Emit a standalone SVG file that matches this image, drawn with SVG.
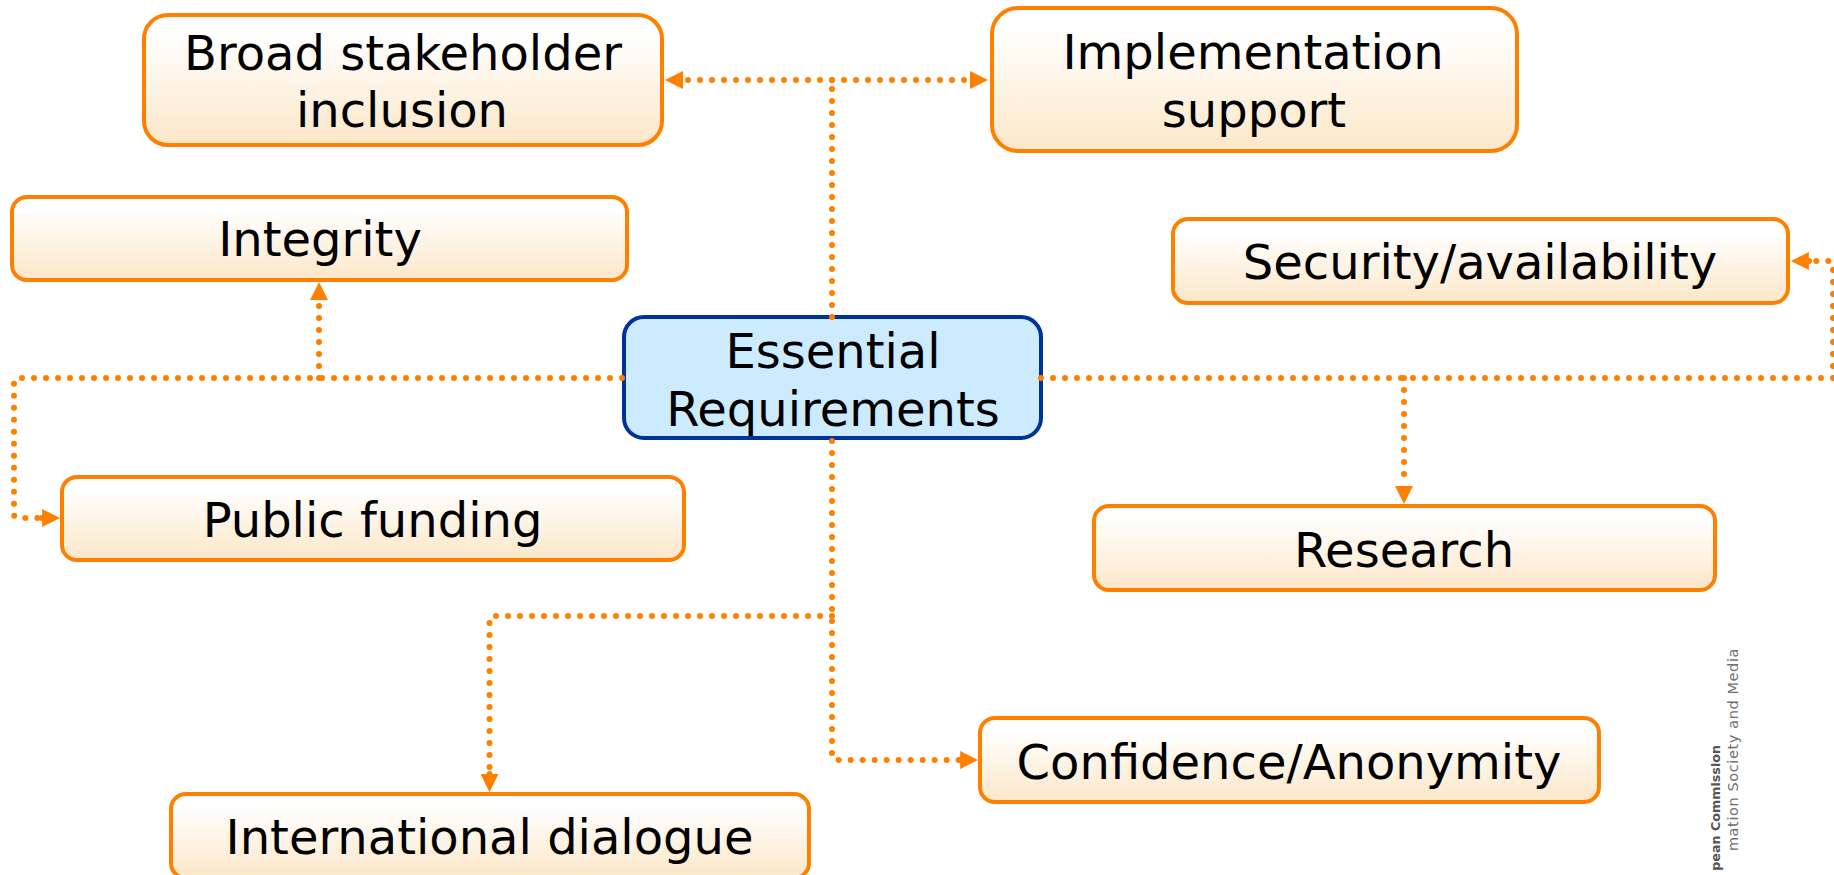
<svg xmlns="http://www.w3.org/2000/svg" width="1834" height="875" viewBox="0 0 1834 875">
<style>
.n{fill:url(#g);stroke:#ff8000;stroke-width:4}
.c{fill:#ccebff;stroke:#003399;stroke-width:4}
text{font-family:"DejaVu Sans","Liberation Sans",sans-serif;font-size:48px;fill:#000;text-anchor:middle}
.d{fill:none;stroke:#ff8000;stroke-width:6;stroke-linecap:round;stroke-dasharray:0 12}
.a{marker-end:url(#m)}
.f{font-size:14.500px;letter-spacing:.6px;fill:#707070;text-anchor:end}
.fb{font-size:12.700px;letter-spacing:0;font-weight:bold;fill:#555}
</style>
<defs>
<linearGradient id="g" x1="0" y1="0" x2="0" y2="1"><stop offset="0.15" stop-color="#fff"/><stop offset="1" stop-color="#fce7c8"/></linearGradient>
<marker id="m" markerUnits="userSpaceOnUse" markerWidth="18" markerHeight="18" refX="0" refY="9" orient="auto"><path d="M0 0L18 9L0 18Z" fill="#ff8000"/></marker>
</defs>
<g id="broad"><rect class="n" x="144" y="15" width="518" height="130" rx="24"/><text x="403" y="70">Broad stakeholder</text><text x="402" y="127">inclusion</text></g>
<g id="implementation"><rect class="n" x="992" y="8" width="525" height="143" rx="26"/><text x="1253" y="69">Implementation</text><text x="1254" y="127">support</text></g>
<g id="integrity"><rect class="n" x="12" y="197" width="615" height="83" rx="15"/><text x="320" y="256">Integrity</text></g>
<g id="security"><rect class="n" x="1173" y="219" width="615" height="84" rx="15"/><text x="1480" y="279">Security/availability</text></g>
<g id="essential"><rect class="c" x="624" y="317" width="417" height="121" rx="20"/><text x="833" y="368">Essential</text><text x="833" y="426">Requirements</text></g>
<g id="public"><rect class="n" x="62" y="477" width="622" height="83" rx="15"/><text x="372.500" y="537">Public funding</text></g>
<g id="research"><rect class="n" x="1094" y="506" width="621" height="84" rx="15"/><text x="1404" y="567">Research</text></g>
<g id="confidence"><rect class="n" x="980" y="718" width="619" height="84" rx="15"/><text x="1289" y="779">Confidence/Anonymity</text></g>
<g id="international"><rect class="n" x="171" y="794" width="638" height="84" rx="15"/><text x="489.500" y="854">International dialogue</text></g>
<g id="connectors">
<path class="d a" d="M832 80H683"/>
<path class="d a" d="M832 80H970"/>
<path class="d" d="M832 317V80"/>
<path class="d" d="M622 378H18Q14 378 14 382V514Q14 518 18 518H42"/>
<path class="d a" d="M319 378V300"/>
<path class="d a" d="M42 518H42.100"/>
<path class="d" d="M1041 378H1833V265Q1833 261 1829 261H1809"/>
<path class="d a" d="M1809 261H1808.900"/>
<path class="d a" d="M1404 378V486"/>
<path class="d" d="M832 441V756Q832 760 836 760H960"/>
<path class="d a" d="M960 760H960.100"/>
<path class="d" d="M832 616H493Q489.500 616 489.500 620V773"/>
<path class="d a" d="M489.500 774V774.100"/>
</g>
<g id="footer"><text class="f fb" transform="translate(1720 745) rotate(-90)">pean Commission</text><text class="f" transform="translate(1738 648) rotate(-90)">mation Society and Media</text></g>
</svg>
